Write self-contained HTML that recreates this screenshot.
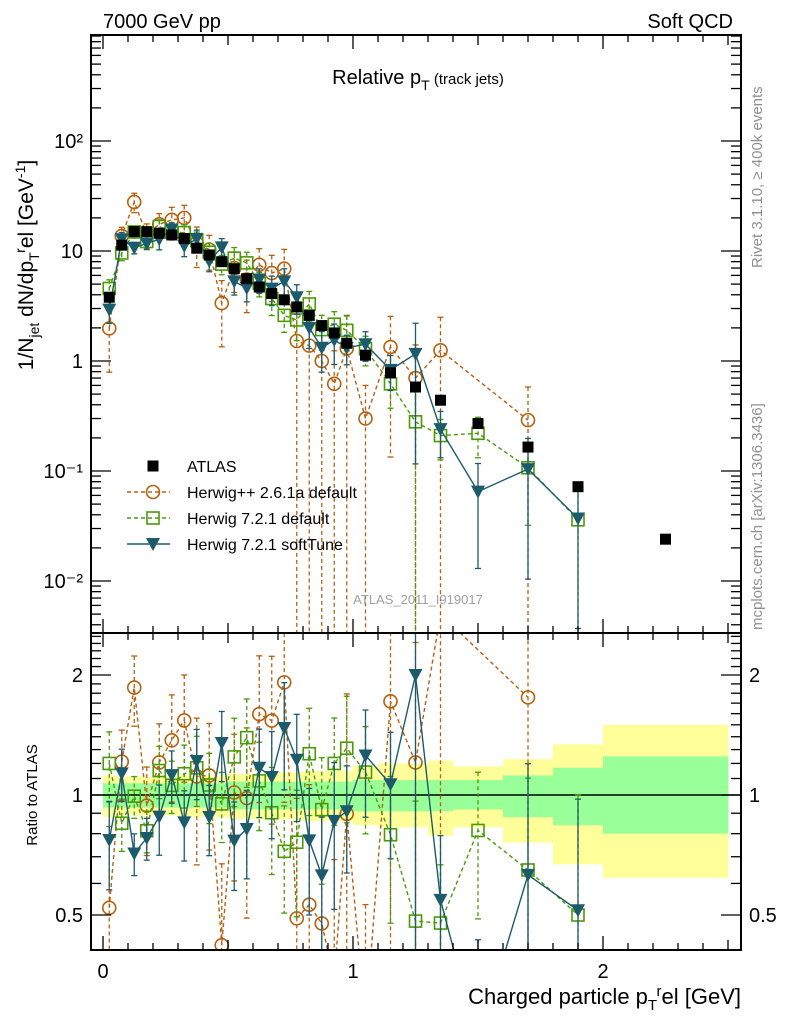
<!DOCTYPE html>
<html><head><meta charset="utf-8"><style>
html,body{margin:0;padding:0;background:#fff;width:786px;height:1024px;overflow:hidden;}
svg{display:block;font-family:"Liberation Sans",sans-serif;overflow:hidden;}
</style></head><body>
<svg id="chart" width="786" height="1024" viewBox="0 0 786 1024" xmlns="http://www.w3.org/2000/svg">
<defs>
<clipPath id="cm"><rect x="91" y="35" width="650" height="598"/></clipPath>
<clipPath id="cr"><rect x="91" y="633" width="650" height="317"/></clipPath>
</defs>
<g id="bands" clip-path="url(#cr)"></g>
<g id="ratio" clip-path="url(#cr)"></g>
<g id="main" clip-path="url(#cm)"></g>
<g id="axes"></g>
<text x="103" y="28" font-size="20">7000 GeV pp</text>
<text x="733" y="28" font-size="20" text-anchor="end">Soft QCD</text>
<text x="418" y="84" font-size="20" text-anchor="middle">Relative p<tspan font-size="14" dy="6">T</tspan><tspan font-size="15" dy="-6"> (track jets)</tspan></text>
<text x="418" y="604" font-size="13" fill="#a0a0a0" text-anchor="middle">ATLAS_2011_I919017</text>
<text transform="translate(762,268) rotate(-90)" font-size="15" fill="#909090">Rivet 3.1.10, ≥ 400k events</text>
<text transform="translate(762,630) rotate(-90)" font-size="15" fill="#909090">mcplots.cern.ch [arXiv:1306.3436]</text>
<text transform="translate(33,265) rotate(-90)" font-size="21" text-anchor="middle">1/N<tspan font-size="14" dy="6">jet</tspan><tspan dy="-6"> dN/dp</tspan><tspan font-size="14" dy="6">T</tspan><tspan font-size="14" dy="-14">r</tspan><tspan dy="8">el [GeV</tspan><tspan font-size="14" dy="-8">-1</tspan><tspan dy="8">]</tspan></text>
<text transform="translate(37,795) rotate(-90)" font-size="15" text-anchor="middle">Ratio to ATLAS</text>
<text x="741" y="1004" font-size="22" text-anchor="end">Charged particle p<tspan font-size="15" dy="6">T</tspan><tspan font-size="15" dy="-14">r</tspan><tspan dy="8">el [GeV]</tspan></text>
<g id="legend"></g>
</svg>
<script>
const binEdges=[0,0.05,0.1,0.15,0.2,0.25,0.3,0.35,0.4,0.45,0.5,0.55,0.6,0.65,0.7,0.75,0.8,0.85,0.9,0.95,1.0,1.1,1.2,1.3,1.4,1.6,1.8,2.0,2.5];
const atlasVals=[3.8,11.3,15.0,15.0,14.5,14.0,13.0,10.6,9.2,8.0,6.9,5.6,4.7,4.1,3.6,3.1,2.6,2.1,1.8,1.45,1.13,0.78,0.58,0.44,0.27,0.165,0.072,0.024];
const herwigPPVals=[1.98,13.7,27.9,14.1,17.5,19.2,20.0,11.8,10.3,3.36,7.0,5.5,7.5,6.3,6.9,1.52,1.38,1.0,0.62,1.3,0.3,1.34,0.7,1.25,null,0.29,null];
const herwigPPErr=[0.6,0.2,0.2,0.25,0.25,0.3,0.3,0.4,0.35,0.6,0.4,0.5,0.4,0.45,0.5,1.0,1.0,1.0,1.0,1.0,1.0,0.9,1.0,1.0,null,1.0,null];
const h721Vals=[4.56,9.6,14.9,12.2,16.7,14.8,14.7,12.4,9.75,7.6,8.6,7.8,5.1,3.7,2.6,2.36,3.3,1.93,2.16,1.9,1.29,0.62,0.28,0.21,0.22,0.107,0.036];
const h721Err=[0.2,0.15,0.12,0.12,0.15,0.15,0.18,0.2,0.2,0.2,0.25,0.25,0.25,0.3,0.3,0.35,0.3,0.35,0.3,0.35,0.3,0.4,1.0,0.4,0.4,0.7,1.0];
const softVals=[2.93,12.8,10.7,11.7,12.8,15.7,11.1,12.9,8.1,10.8,5.3,4.6,5.5,4.55,5.3,3.8,2.0,1.32,1.55,1.32,1.42,0.83,1.16,0.24,0.065,0.104,0.037];
const softErr=[0.25,0.15,0.12,0.12,0.2,0.15,0.2,0.2,0.2,0.2,0.25,0.25,0.25,0.3,0.3,0.3,0.35,0.4,0.4,0.3,0.3,0.35,0.9,0.45,0.8,0.9,0.9];
const bandGreenUp=[1.07,1.07,1.07,1.07,1.07,1.07,1.07,1.07,1.07,1.07,1.08,1.08,1.08,1.08,1.08,1.08,1.08,1.08,1.08,1.08,1.09,1.09,1.09,1.09,1.09,1.12,1.17,1.25];
const bandGreenDn=[0.93,0.93,0.93,0.93,0.93,0.93,0.93,0.93,0.93,0.93,0.92,0.92,0.92,0.92,0.92,0.92,0.92,0.92,0.92,0.92,0.91,0.91,0.91,0.91,0.92,0.88,0.84,0.80];
const bandYellowUp=[1.12,1.11,1.11,1.11,1.11,1.11,1.12,1.12,1.12,1.12,1.13,1.13,1.13,1.14,1.14,1.14,1.15,1.15,1.15,1.15,1.18,1.2,1.2,1.22,1.18,1.23,1.34,1.50];
const bandYellowDn=[0.88,0.89,0.89,0.89,0.89,0.89,0.88,0.88,0.88,0.88,0.87,0.87,0.87,0.87,0.87,0.87,0.86,0.86,0.86,0.86,0.84,0.83,0.83,0.79,0.83,0.76,0.67,0.62];
const xTickLabels=["0","1","2"];
const yTickLabels=["10⁻²","10⁻¹","1","10","10²"];
const rTickLabels=["0.5","1","2"];

const NS="http://www.w3.org/2000/svg";
const X0=91,X1=741,MT=35,MB=633,RB=950;
const xs=v=>103+v*250;
const ys=v=>361-110*Math.log10(v);
const yr=v=>795-120*Math.log2(v);
const C_OR="#b5600f",C_GR="#4a9a08",C_ST="#1c5b6b";
function el(t,a,p){const e=document.createElementNS(NS,t);for(const k in a)e.setAttribute(k,a[k]);p.appendChild(e);return e;}
const gM=document.getElementById('main'),gR=document.getElementById('ratio'),gB=document.getElementById('bands'),gA=document.getElementById('axes'),gL=document.getElementById('legend');
const centers=binEdges.slice(0,-1).map((e,i)=>(e+binEdges[i+1])/2);

for(let i=0;i<atlasVals.length;i++){
 const a=xs(binEdges[i]),b=xs(binEdges[i+1]);
 const ry=el('rect',{x:a,y:yr(bandYellowUp[i]),width:b-a+0.5,height:yr(bandYellowDn[i])-yr(bandYellowUp[i]),fill:"#ffff99"},gB);
 
 
 const rg=el('rect',{x:a,y:yr(bandGreenUp[i]),width:b-a+0.5,height:yr(bandGreenDn[i])-yr(bandGreenUp[i]),fill:"#99ff99"},gB);
 
 
}
el('line',{x1:X0,x2:X1,y1:yr(1),y2:yr(1),stroke:"#000","stroke-width":1.5},gR);

function marker(g,type,x,y,col){
 let m;
 if(type==='c')m=el('circle',{cx:x,cy:y,r:6.5,fill:"none",stroke:col,"stroke-width":1.6},g);
 else if(type==='s')m=el('rect',{x:x-6,y:y-6,width:12,height:12,fill:"none",stroke:col,"stroke-width":1.6},g);
 else if(type==='t')m=el('path',{d:`M${x-7},${y-6}L${x+7},${y-6}L${x},${y+7}Z`,fill:col},g);
 else m=el('rect',{x:x-5.5,y:y-5.5,width:11,height:11,fill:"#000"},g);
 return m;
}
function series(vals,errs,type,col,dash,name){
 for(const [g,fy,isR] of [[gM,ys,false],[gR,yr,true]]){
  const pts=[];
  vals.forEach((v,i)=>{
   if(v==null)return;
   const val=isR?v/atlasVals[i]:v;
   const up=val*(1+errs[i]),dn=Math.max(val*(1-errs[i]),1e-5);
   const x=xs(centers[i]);
   const e=el('line',{x1:x,x2:x,y1:fy(up),y2:fy(dn),stroke:col,"stroke-width":1.3,"stroke-dasharray":dash},g);
   
   
   el('line',{x1:x-3,x2:x+3,y1:fy(up),y2:fy(up),stroke:col,"stroke-width":1.3},g);
   el('line',{x1:x-3,x2:x+3,y1:fy(dn),y2:fy(dn),stroke:col,"stroke-width":1.3},g);
   pts.push([x,fy(val)]);
  });
  const p=el('polyline',{points:pts.map(q=>q.join(',')).join(' '),fill:"none",stroke:col,"stroke-width":1.4,"stroke-dasharray":dash},g);
  
  
  pts.forEach(q=>{const m=marker(g,type,q[0],q[1],col);
   
   });
 }
}
series(herwigPPVals,herwigPPErr,'c',C_OR,"4,3","herwigpp-261a");
series(h721Vals,h721Err,'s',C_GR,"4,3","herwig-721-default");
series(softVals,softErr,'t',C_ST,"none","herwig-721-softtune");
atlasVals.forEach((v,i)=>{const m=marker(gM,'a',xs(centers[i]),ys(v));
 
 });

for(const [t,b] of [[MT,MB],[MB,RB]]){
 const f=el('rect',{x:X0,y:t,width:X1-X0,height:b-t,fill:"none",stroke:"#000","stroke-width":2},gA);
 
 
}
for(let k=0;k<=26;k++){
 const v=k/10,x=xs(v);if(x>X1)break;
 const L=(k%10===0)?14:(k%5===0?10:7);
 for(const [t,b] of [[MT,MB],[MB,RB]]){
  el('line',{x1:x,x2:x,y1:t,y2:t+L,stroke:"#000","stroke-width":1.3},gA);
  el('line',{x1:x,x2:x,y1:b,y2:b-L,stroke:"#000","stroke-width":1.3},gA);
 }
}
xTickLabels.forEach((s,i)=>{const t=el('text',{x:xs(+s),y:978,"font-size":20,"text-anchor":"middle"},gA);t.textContent=s;
 });
for(let d=-3;d<=2;d++){for(let m=1;m<=9;m++){
 const v=m*Math.pow(10,d),y=ys(v);if(y<MT||y>MB)continue;
 const L=m===1?20:10;
 el('line',{x1:X0,x2:X0+L,y1:y,y2:y,stroke:"#000","stroke-width":1.3},gA);
 el('line',{x1:X1,x2:X1-L,y1:y,y2:y,stroke:"#000","stroke-width":1.3},gA);
}}
yTickLabels.forEach((s,i)=>{const t=el('text',{x:83,y:ys(Math.pow(10,i-2))+7,"font-size":20,"text-anchor":"end"},gA);t.textContent=s;
 });
for(let k=4;k<=25;k++){const v=k/10,y=yr(v);if(y<MB||y>RB)continue;
 const L=(k===5||k===10||k===20)?20:10;
 el('line',{x1:X0,x2:X0+L,y1:y,y2:y,stroke:"#000","stroke-width":1.3},gA);
 el('line',{x1:X1,x2:X1-L,y1:y,y2:y,stroke:"#000","stroke-width":1.3},gA);
}
rTickLabels.forEach(s=>{
 const t=el('text',{x:83,y:yr(+s)+7,"font-size":20,"text-anchor":"end"},gA);t.textContent=s;
 
 const t2=el('text',{x:749,y:yr(+s)+7,"font-size":20},gA);t2.textContent=s;
 
});
const legNames=["ATLAS","Herwig++ 2.6.1a default","Herwig 7.2.1 default","Herwig 7.2.1 softTune"];
const legTypes=['a','c','s','t'],legCols=["#000",C_OR,C_GR,C_ST],legDash=["","4,3","4,3","none"];
legNames.forEach((n,i)=>{
 const y=466+i*26,g=el('g',{},gL);
 
 
 if(i>0)el('line',{x1:127,x2:170,y1:y,y2:y,stroke:legCols[i],"stroke-width":1.4,"stroke-dasharray":legDash[i]},g);
 marker(g,legTypes[i],153,y,legCols[i]);
 const t=el('text',{x:187,y:y+6,"font-size":16},g);t.textContent=n;
});
</script>
</body></html>
